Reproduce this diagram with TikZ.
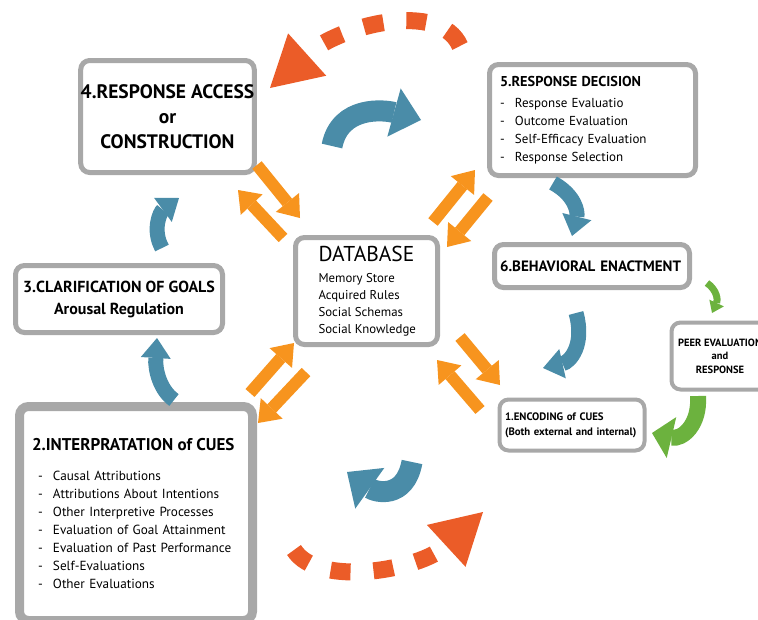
\documentclass[tikz,border=0pt]{standalone}
\usepackage{fontspec}
\setmainfont{PT Sans}
\usetikzlibrary{arrows.meta}

\definecolor{boxgray}{RGB}{168,168,168}
\definecolor{cycleblue}{RGB}{74,140,168}
\definecolor{dborange}{RGB}{247,148,30}
\definecolor{loopred}{RGB}{235,92,40}
\definecolor{peergreen}{RGB}{108,178,62}
\newcommand{\dashitem}{\makebox[15pt][l]{-}}
\newcommand{\dbitem}[1]{\makebox[96pt][l]{#1}}

\begin{document}
\begin{tikzpicture}[x=1pt,y=-1pt,
  stage/.style={draw=boxgray,line width=5pt,rounded corners=9pt,fill=white,inner sep=0pt},
  flow/.style={cycleblue,line width=15pt,-{Triangle[length=20pt,width=30pt,line width=0pt]}},
  bigflow/.style={cycleblue,line width=21pt,-{Triangle[length=28pt,width=50pt,line width=0pt]}},
  db/.style={dborange,line width=12pt,-{Triangle[length=20pt,width=30pt,line width=0pt]}},
  redloop/.style={loopred,line width=17pt,dash pattern=on 20pt off 23pt,-{Triangle[length=50pt,width=57pt,line width=0pt]}},
  greenflow/.style={peergreen,line width=16pt,-{Triangle[length=20pt,width=42pt,line width=0pt]}}]
  \useasboundingbox (0,0) rectangle (758,619);

  % stages
  \node[stage,minimum width=170pt,minimum height=112pt,align=center,
        font=\bfseries\fontsize{19.5}{25}\selectfont] (access) at (167.5,116.5)
        {4.RESPONSE ACCESS\\or\\CONSTRUCTION};
  \node[stage,minimum width=206pt,minimum height=111pt,text width=185pt,align=left,
        font=\fontsize{13}{18}\selectfont] (decision) at (592.5,120)
        {{\bfseries\fontsize{14.3}{18}\selectfont 5.RESPONSE DECISION}\\[3pt]
         \dashitem Response Evaluatio\\ \dashitem Outcome Evaluation\\
         \dashitem Self-Efficacy Evaluation\\ \dashitem Response Selection};
  \node[stage,minimum width=195pt,minimum height=43pt,text width=184pt,align=left,
        font=\bfseries\fontsize{15}{18}\selectfont] (enact) at (592,266)
        {\raisebox{-3pt}{6.BEHAVIORAL ENACTMENT}};
  \node[stage,minimum width=142pt,minimum height=107pt,align=center,
        font=\fontsize{12.8}{17}\selectfont] (db) at (366.5,291)
        {{\fontsize{21.5}{20}\selectfont DATABASE}\\[4pt]
         \dbitem{Memory Store}\\ \dbitem{Acquired Rules}\\
         \dbitem{Social Schemas}\\ \dbitem{Social Knowledge}};
  \node[stage,minimum width=207pt,minimum height=67pt,align=center,
        font=\bfseries\fontsize{16}{22}\selectfont] (goals) at (119,299)
        {3.CLARIFICATION OF GOALS\\Arousal Regulation};
  \node[stage,line width=9pt,minimum width=233pt,minimum height=214pt,text width=208pt,align=left,
        font=\fontsize{13.2}{18}\selectfont] (interp) at (136,513.5)
        {{\bfseries\fontsize{17}{18}\selectfont 2.INTERPRATATION of CUES}\\[12pt]
         \hspace*{6pt}\dashitem Causal Attributions\\
         \hspace*{6pt}\dashitem Attributions About Intentions\\
         \hspace*{6pt}\dashitem Other Interpretive Processes\\
         \hspace*{6pt}\dashitem Evaluation of Goal Attainment\\
         \hspace*{6pt}\dashitem Evaluation of Past Performance\\
         \hspace*{6pt}\dashitem Self-Evaluations\\
         \hspace*{6pt}\dashitem Other Evaluations};
  \node[stage,line width=4pt,minimum width=145pt,minimum height=51pt,text width=134pt,align=left,
        font=\bfseries\fontsize{10.8}{15}\selectfont] (encode) at (572,425)
        {1.ENCODING of CUES\\(Both external and internal)};
  \node[stage,line width=4pt,minimum width=97pt,minimum height=67pt,align=center,
        font=\bfseries\fontsize{10.5}{13.5}\selectfont] (peer) at (720,356)
        {PEER EVALUATION\\and\\RESPONSE};

  % free ends of the arrows
  \coordinate (a1) at (257,165); \coordinate (a2) at (300,218);
  \coordinate (a3) at (283,238); \coordinate (a4) at (238,190);
  \coordinate (b1) at (433,222); \coordinate (b2) at (475,170);
  \coordinate (b3) at (488,197); \coordinate (b4) at (447,247);
  \coordinate (c1) at (250,393); \coordinate (c2) at (294,343);
  \coordinate (c3) at (306,372); \coordinate (c4) at (258,423);
  \coordinate (d1) at (460,337); \coordinate (d2) at (500,385);
  \coordinate (d3) at (480,410); \coordinate (d4) at (437,360);

  % database exchange
  \draw[db] (a1) -- (a2);
  \draw[db] (a3) -- (a4);
  \draw[db] (b1) -- (b2);
  \draw[db] (b3) -- (b4);
  \draw[db] (c1) -- (c2);
  \draw[db] (c3) -- (c4);
  \draw[db] (d1) -- (d2);
  \draw[db] (d3) -- (d4);

  % the cycle
  \coordinate (s45) at (332,146); \coordinate (t45) at (421,120);
  \coordinate (s56) at (553,183); \coordinate (t56) at (572,236);
  \coordinate (s61) at (576,313); \coordinate (t61) at (543,368);
  \coordinate (s12) at (412,462); \coordinate (t12) at (347,472);
  \coordinate (s23) at (174,400); \coordinate (t23) at (157,338);
  \coordinate (s34) at (162,248); \coordinate (t34) at (179,198);
  \draw[bigflow] (s45) .. controls (340,105) and (385,110) .. (t45);
  \draw[flow] (s56) .. controls (575,195) and (578,212) .. (t56);
  \draw[flow] (s61) .. controls (585,345) and (570,362) .. (t61);
  \draw[bigflow] (s12) .. controls (405,500) and (375,492) .. (t12);
  \draw[flow] (s23) .. controls (160,390) and (155,370) .. (t23);
  \draw[flow] (s34) .. controls (152,230) and (160,212) .. (t34);

  % outer loop
  \coordinate (r1) at (460,46); \coordinate (r2) at (270,88);
  \coordinate (r3) at (294,550); \coordinate (r4) at (483,512);
  \draw[redloop] (r1) .. controls (440,0) and (340,25) .. (r2);
  \draw[redloop] (r3) .. controls (318,588) and (420,570) .. (r4);

  % peer feedback
  \coordinate (g1) at (707,283); \coordinate (g2) at (712,313);
  \coordinate (g3) at (698,396); \coordinate (g4) at (652,433);
  \draw[peergreen,line width=7pt,-{Triangle[length=11pt,width=16pt,line width=0pt]}]
    (g1) .. controls (717,290) and (718,300) .. (g2);
  \draw[greenflow] (g3) .. controls (700,425) and (682,440) .. (g4);
\end{tikzpicture}
\end{document}
